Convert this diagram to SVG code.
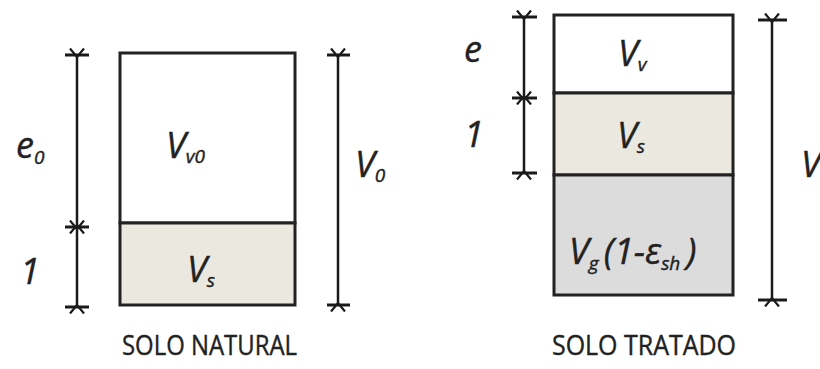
<svg xmlns="http://www.w3.org/2000/svg" width="820" height="369" viewBox="0 0 820 369">
<defs>
<style>
.box{stroke:#222;stroke-width:3;}
.void{fill:#ffffff;}
.solid{fill:#ebe9df;}
.gel{fill:#dcdcdc;}
.dim{stroke:#1a1a1a;stroke-width:2.5;fill:none;}
.tick{stroke:#1a1a1a;stroke-width:3;}
.lbl{font-family:"Open Sans","Liberation Sans",sans-serif;font-style:italic;fill:#222;font-size:36px;stroke:#222;stroke-width:0.4;}
.sub{font-size:19px;}
.title{font-family:"Open Sans","Liberation Sans",sans-serif;fill:#222;font-size:27px;stroke:#222;stroke-width:0.4;}
</style>
<marker id="ah" viewBox="0 0 10 16" refX="1" refY="8" markerWidth="10" markerHeight="16" markerUnits="userSpaceOnUse" orient="auto-start-reverse">
<path d="M9.5,1 L1,8 L9.5,15" fill="none" stroke="#1a1a1a" stroke-width="2.2"/>
</marker>
</defs>
<rect width="820" height="369" fill="#ffffff"/>

<g id="natural-void">
<rect class="box void" x="120" y="53" width="175" height="170"/>
<text class="lbl" x="166" y="158">V<tspan class="sub" dy="5">v0</tspan></text>
</g>
<g id="natural-solid">
<rect class="box solid" x="120" y="223" width="175" height="82"/>
<text class="lbl" x="187" y="282">V<tspan class="sub" dy="5">s</tspan></text>
</g>

<g id="treated-void">
<rect class="box void" x="554" y="15" width="179" height="78"/>
<text class="lbl" x="618" y="66">V<tspan class="sub" dy="5">v</tspan></text>
</g>
<g id="treated-solid">
<rect class="box solid" x="554" y="93" width="179" height="82"/>
<text class="lbl" x="617" y="148">V<tspan class="sub" dy="5">s</tspan></text>
</g>
<g id="treated-gel">
<rect class="box gel" x="554" y="175" width="179" height="120"/>
<text class="lbl" x="569" y="264">V<tspan class="sub" dy="6">g</tspan><tspan dy="-6" dx="5">(1-ε</tspan><tspan class="sub" dy="6">sh</tspan><tspan dy="-6" dx="6">)</tspan></text>
</g>

<g id="connectors">
<line class="tick" x1="65" y1="55" x2="89" y2="55"/>
<line class="tick" x1="65" y1="227" x2="89" y2="227"/>
<line class="tick" x1="65" y1="307" x2="89" y2="307"/>
<line class="dim" x1="77" y1="57" x2="77" y2="225" marker-start="url(#ah)" marker-end="url(#ah)"/>
<line class="dim" x1="77" y1="229" x2="77" y2="305" marker-start="url(#ah)" marker-end="url(#ah)"/>

<line class="tick" x1="327" y1="55" x2="350" y2="55"/>
<line class="tick" x1="327" y1="305" x2="350" y2="305"/>
<line class="dim" x1="338" y1="57" x2="338" y2="303" marker-start="url(#ah)" marker-end="url(#ah)"/>

<line class="tick" x1="512" y1="17" x2="537" y2="17"/>
<line class="tick" x1="512" y1="98" x2="537" y2="98"/>
<line class="tick" x1="512" y1="173" x2="537" y2="173"/>
<line class="dim" x1="524" y1="19" x2="524" y2="96" marker-start="url(#ah)" marker-end="url(#ah)"/>
<line class="dim" x1="524" y1="100" x2="524" y2="171" marker-start="url(#ah)" marker-end="url(#ah)"/>

<line class="tick" x1="758" y1="20" x2="787" y2="20"/>
<line class="tick" x1="758" y1="300" x2="787" y2="300"/>
<line class="dim" x1="772" y1="22" x2="772" y2="298" marker-start="url(#ah)" marker-end="url(#ah)"/>
</g>

<g id="labels">
<text class="lbl" x="16" y="158">e<tspan class="sub" dy="6">0</tspan></text>
<text class="lbl" x="20" y="284">1</text>
<text class="lbl" x="355" y="177">V<tspan class="sub" dy="5">0</tspan></text>
<text class="lbl" x="464" y="62">e</text>
<text class="lbl" x="464" y="147">1</text>
<text class="lbl" x="801" y="177">V</text>
</g>

<g id="titles">
<text class="title" x="122" y="355" textLength="175" lengthAdjust="spacingAndGlyphs">SOLO NATURAL</text>
<text class="title" x="552" y="355" textLength="184" lengthAdjust="spacingAndGlyphs">SOLO TRATADO</text>
</g>
</svg>
